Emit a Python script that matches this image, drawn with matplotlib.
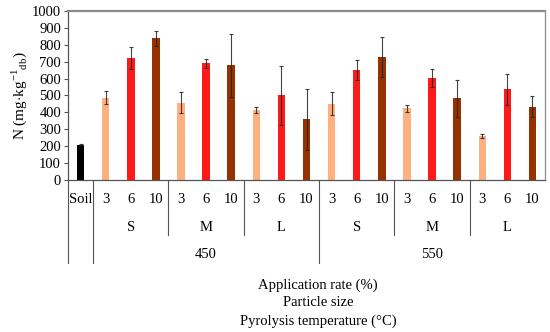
import matplotlib
matplotlib.use("Agg")
import matplotlib.pyplot as plt
from matplotlib.lines import Line2D

plt.rcParams['font.family'] = ['Liberation Serif', 'DejaVu Serif']
plt.rcParams['mathtext.fontset'] = 'custom'
plt.rcParams['mathtext.rm'] = 'Liberation Serif'

# data
rate_labels = ['Soil'] + ['3', '6', '10'] * 6
size_labels = ['S', 'M', 'L', 'S', 'M', 'L']
temp_labels = ['450', '550']
values = [210,
          488, 722, 838, 458, 690, 678, 414, 501, 360,
          451, 649, 728, 424, 602, 484, 260, 537, 434]
errors = [5,
          40, 65, 43, 62, 28, 184, 20, 173, 180,
          67, 60, 118, 20, 52, 110, 10, 92, 62]

rate_colors = {'Soil': '#000000', '3': '#FFB07F', '6': '#FF1A1A', '10': '#963200'}
colors = [rate_colors[r] for r in rate_labels]

fig = plt.figure(figsize=(5.5, 3.32), dpi=100)
ax = fig.add_axes([0.1236, 0.4578, 0.991 - 0.1236, 0.9669 - 0.4578])

x = list(range(len(values)))
ax.bar(x, values, width=0.3, color=colors)
ax.errorbar(x, values, yerr=errors, fmt='none', ecolor='#222222',
            elinewidth=0.8, capsize=1.5, capthick=0.8, alpha=0.85)

ax.set_xlim(-0.5, len(values) - 0.5)
ax.set_ylim(0, 1000)
ax.set_yticks(range(0, 1001, 100))
ax.set_xticks([])
ax.tick_params(axis='y', labelsize=10.5, length=3, width=0.8, color='#555555', pad=2)
for s in ['left', 'right', 'bottom']:
    ax.spines[s].set_color('#555555')
    ax.spines[s].set_linewidth(0.9)
ax.spines['top'].set_color('#8c8c8c')
ax.spines['top'].set_linewidth(1.6)
ax.spines['right'].set_color('#8c8c8c')

ax.set_ylabel(r'N (mg$\cdot$kg$^{-1}$$_{\mathrm{db}}$)', fontsize=11, labelpad=2)

# hierarchical category labels below the axis
tr = ax.get_xaxis_transform()
h = 169.0
row1 = -19 / h
row2 = -47 / h
row3 = -74 / h
end2 = -55 / h
end3 = -83 / h
for xi, lab in zip(x, rate_labels):
    ax.text(xi, row1, lab, transform=tr, ha='center', va='center', fontsize=10.5)
for i, lab in enumerate(size_labels):
    ax.text(1 + 3 * i + 1, row2, lab, transform=tr, ha='center', va='center', fontsize=10.5)
for i, lab in enumerate(temp_labels):
    ax.text(1 + 9 * i + 4, row3, lab, transform=tr, ha='center', va='center', fontsize=10.5)

line_kw = dict(transform=tr, color='#555555', lw=0.8, clip_on=False)
for bx in [-0.5, 0.5, 9.5]:
    ax.add_line(Line2D([bx, bx], [0, end3], **line_kw))
for bx in [3.5, 6.5, 12.5, 15.5]:
    ax.add_line(Line2D([bx, bx], [0, end2], **line_kw))

fig.text(318 / 550, 1 - 285 / 332, 'Application rate (%)', ha='center', va='center', fontsize=10.5)
fig.text(318 / 550, 1 - 303 / 332, 'Particle size', ha='center', va='center', fontsize=10.5)
fig.text(318 / 550, 1 - 321 / 332, 'Pyrolysis temperature (°C)', ha='center', va='center', fontsize=10.5)

fig.savefig('out.png', dpi=100, facecolor='white')
